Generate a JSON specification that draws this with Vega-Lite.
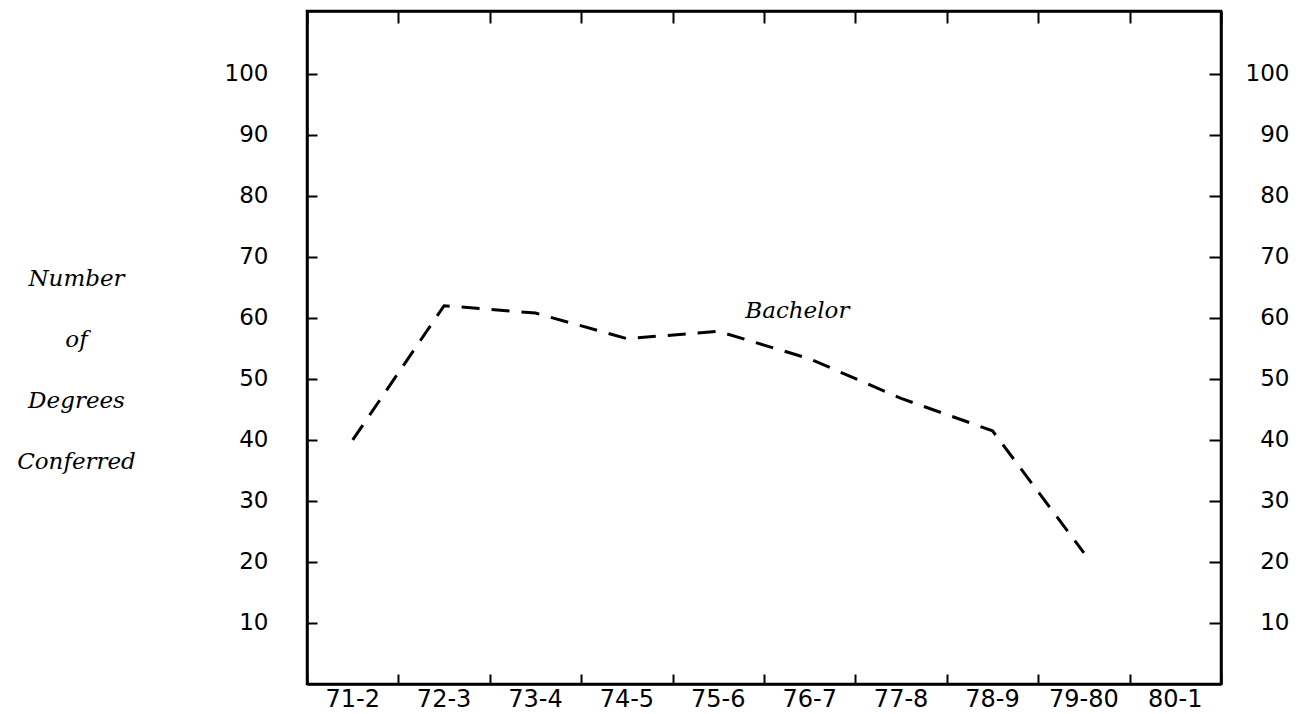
{
  "$schema": "https://vega.github.io/schema/vega-lite/v6.json",
  "width": 914,
  "height": 673,
  "autosize": {"type": "none"},
  "padding": {"left": 307, "top": 11, "right": 87, "bottom": 30},
  "background": "white",
  "config": {
    "view": {"stroke": "black", "strokeWidth": 2.5},
    "axis": {"domainColor": "black", "tickColor": "black", "labelColor": "black", "grid": false, "domainWidth": 2.5, "tickWidth": 2}
  },
  "data": {
    "values": [
      {"year": "71-2", "degrees": 40},
      {"year": "72-3", "degrees": 62},
      {"year": "73-4", "degrees": 60.8},
      {"year": "74-5", "degrees": 56.6},
      {"year": "75-6", "degrees": 57.8},
      {"year": "76-7", "degrees": 53.3},
      {"year": "77-8", "degrees": 46.8},
      {"year": "78-9", "degrees": 41.5},
      {"year": "79-80", "degrees": 21.5}
    ]
  },
  "resolve": {"axis": {"x": "independent", "y": "independent"}},
  "layer": [
    {
      "mark": {"type": "line", "color": "black", "strokeWidth": 3, "strokeDash": [18, 12]},
      "encoding": {
        "x": {
          "field": "year", "type": "ordinal",
          "scale": {"type": "band", "domain": ["71-2", "72-3", "73-4", "74-5", "75-6", "76-7", "77-8", "78-9", "79-80", "80-1"], "paddingInner": 0, "paddingOuter": 0},
          "axis": {"orient": "bottom", "title": null, "ticks": false, "tickSize": 0, "labelAngle": 0, "labelFont": "DejaVu Sans", "labelFontSize": 24, "labelPadding": 15, "labelBaseline": "middle"}
        },
        "y": {
          "field": "degrees", "type": "quantitative",
          "scale": {"domain": [0, 110.3], "nice": false, "zero": true},
          "axis": {
            "orient": "left", "values": [10, 20, 30, 40, 50, 60, 70, 80, 90, 100],
            "ticks": false, "tickSize": 0, "labelFont": "DejaVu Sans", "labelFontSize": 23, "labelPadding": 39, "labelAlign": "right", "labelBaseline": "middle",
            "title": ["Number", "of", "Degrees", "Conferred"],
            "titleFont": "DejaVu Serif", "titleFontStyle": "italic", "titleFontWeight": "normal", "titleFontSize": 23,
            "titleAngle": 0, "titleAlign": "center", "titleBaseline": "alphabetic", "titleX": -231, "titleY": 274, "titleLineHeight": 61
          }
        }
      }
    },
    {
      "data": {"values": [{"year": "75-6", "degrees": 60, "label": "Bachelor"}]},
      "mark": {"type": "text", "align": "left", "baseline": "alphabetic", "dx": 27, "font": "DejaVu Serif", "fontStyle": "italic", "fontSize": 23, "color": "black"},
      "encoding": {
        "x": {"field": "year", "type": "ordinal", "axis": {"orient": "top", "title": null, "labels": false, "ticks": false, "tickSize": 0}},
        "y": {"field": "degrees", "type": "quantitative", "axis": {"orient": "right", "title": null, "values": [10, 20, 30, 40, 50, 60, 70, 80, 90, 100], "ticks": false, "tickSize": 0, "labelFont": "DejaVu Sans", "labelFontSize": 23, "labelPadding": 68, "labelAlign": "right", "labelBaseline": "middle"}},
        "text": {"field": "label"}
      }
    },
    {
      "mark": {"type": "point", "opacity": 0},
      "encoding": {
        "x": {"field": "year", "type": "ordinal", "axis": {"orient": "top", "offset": -673, "title": null, "labels": false, "domain": false, "tickBand": "extent", "tickSize": 10}},
        "y": {"field": "degrees", "type": "quantitative", "axis": {"orient": "right", "offset": -914, "title": null, "labels": false, "domain": false, "values": [10, 20, 30, 40, 50, 60, 70, 80, 90, 100], "tickSize": 10}}
      }
    },
    {
      "mark": {"type": "point", "opacity": 0},
      "encoding": {
        "x": {"field": "year", "type": "ordinal", "axis": {"orient": "bottom", "offset": -673, "title": null, "labels": false, "domain": false, "tickBand": "extent", "tickSize": 12}},
        "y": {"field": "degrees", "type": "quantitative", "axis": {"orient": "left", "offset": -914, "title": null, "labels": false, "domain": false, "values": [10, 20, 30, 40, 50, 60, 70, 80, 90, 100], "tickSize": 12}}
      }
    }
  ]
}
